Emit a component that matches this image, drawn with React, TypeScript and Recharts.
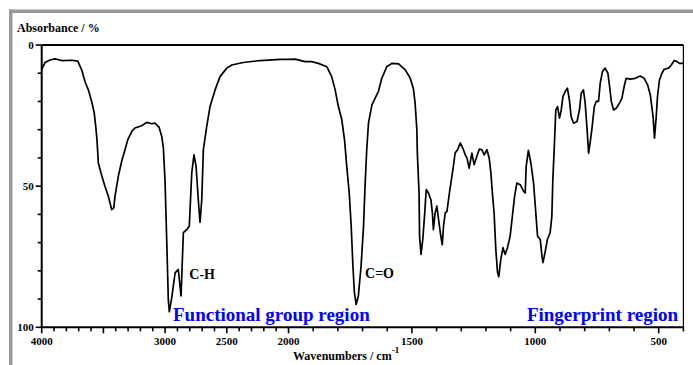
import { LineChart, Line, XAxis, YAxis, ReferenceLine, ReferenceDot } from 'recharts';

// IR spectrum (wavenumber in cm-1, absorbance axis in %)
const wavenumbers = [
  4000, 3973, 3933, 3892, 3838, 3757, 3708, 3676, 3649, 3622, 3595, 3574, 3562, 3552, 3541, 3519,
  3487, 3460, 3433, 3416, 3406, 3379, 3352, 3325, 3303, 3270, 3244, 3190, 3149, 3108, 3082, 3049,
  3027, 3014, 3001, 2987, 2974, 2966, 2946, 2919, 2893, 2871, 2852, 2825, 2804, 2784, 2766, 2749,
  2731, 2717, 2703, 2690, 2663, 2636, 2595, 2555, 2500, 2460, 2366, 2230, 2068, 2000, 1973, 1933,
  1906, 1879, 1845, 1825, 1811, 1798, 1784, 1773, 1764, 1754, 1746, 1739, 1733, 1726, 1717, 1706,
  1696, 1690, 1683, 1676, 1662, 1649, 1636, 1622, 1602, 1581, 1554, 1527, 1507, 1494, 1487, 1480,
  1478, 1471, 1469, 1463, 1456, 1449, 1442, 1433, 1423, 1417, 1413, 1406, 1399, 1392, 1383, 1377,
  1372, 1365, 1358, 1348, 1338, 1332, 1325, 1315, 1304, 1294, 1284, 1277, 1268, 1257, 1248, 1237,
  1227, 1217, 1207, 1196, 1187, 1180, 1174, 1167, 1160, 1153, 1148, 1140, 1131, 1122, 1113, 1102,
  1093, 1084, 1075, 1061, 1048, 1041, 1037, 1028, 1018, 1007, 998, 991, 980, 973, 969, 960,
  951, 940, 933, 929, 923, 917, 910, 902, 895, 888, 879, 870, 862, 855, 845, 831,
  821, 814, 805, 798, 791, 784, 778, 771, 761, 753, 744, 737, 728, 717, 706, 699,
  692, 683, 672, 659, 649, 640, 632, 615, 595, 575, 559, 545, 534, 523, 517, 510,
  505, 497, 487, 478, 460, 449, 437, 426, 416, 400,
];
const absorbance = [
  8.6, 6.2, 5.3, 4.9, 5.5, 5.4, 5.7, 8.8, 13, 15.9, 20, 24.1, 28.9, 33.6, 41.8, 45.4,
  50.1, 53.6, 58.3, 57.7, 53.6, 46.5, 41.2, 37.1, 33.6, 30.6, 29.4, 28.6, 27.4, 27.9, 27.7, 29.1,
  32.4, 36.5, 47.7, 68.9, 90.1, 94.5, 89.5, 80.7, 79.5, 88.9, 66.5, 65.4, 64.2, 45.3, 38.9, 43,
  54.8, 62.8, 54.8, 37.1, 28.9, 21.8, 15.9, 11.2, 8.2, 7.1, 6.2, 5.5, 5.1, 5.1, 5.0, 5.9,
  5.9, 6.5, 7.7, 11.2, 15.9, 21.8, 26.5, 33.6, 43, 52.4, 64.2, 78.3, 87.7, 91.9, 88.9, 78.3,
  64.2, 50.1, 37.1, 27.7, 21.2, 18.8, 16.5, 11.8, 7.7, 6.5, 6.7, 8.8, 11.7, 15.5, 20.6, 30,
  38.3, 52.4, 67.7, 74.2, 68.9, 60.7, 51.2, 52.4, 54.8, 59.5, 65.4, 59.5, 57.1, 61.8, 67.7, 70.7,
  64.2, 59.5, 58.9, 52.4, 46.5, 43, 38.3, 37.1, 34.7, 36.5, 38.9, 40, 43.6, 38.3, 42.4, 39.5,
  36.9, 37.1, 38.9, 37.1, 40, 45.3, 52.4, 59.5, 72.4, 80.7, 82.1, 76, 71.8, 74.2, 71.8, 67.7,
  60.7, 53.6, 48.9, 49.5, 51.8, 52.4, 43, 37.3, 41.8, 48.9, 59.5, 67.7, 68.9, 74.8, 77.1, 73.2,
  68.9, 66.5, 60.7, 47.7, 35.9, 23, 21.8, 25.9, 23, 18.3, 16.5, 15.3, 19.4, 25.3, 27.7, 27.1,
  23, 17.1, 15.9, 20.6, 28.9, 38.3, 34.7, 30, 21.8, 20, 20, 13.5, 9.4, 8.2, 10, 14.7,
  20, 23, 22.4, 20.6, 18.8, 14.7, 11.8, 12.1, 11.8, 11, 11.8, 14.1, 17.7, 25.3, 33, 25.3,
  18.3, 12.4, 10, 8.6, 8.2, 7.1, 5.5, 5.9, 6.5, 6.5,
];

const xTicks = [
  4000, 3900, 3800, 3700, 3600, 3500, 3400, 3300, 3200, 3100, 3000, 2900, 2800, 2700, 2600, 2500,
  2400, 2300, 2200, 2100, 2000, 1900, 1800, 1700, 1600, 1500, 1400, 1300, 1200, 1100, 1000, 900,
  800, 700, 600, 500, 400,
];
const xTickLabels = [4000, 3000, 2500, 2000, 1500, 1000, 500];
const yTicks = [0, 10, 20, 30, 40, 50, 60, 70, 80, 90, 100];
const yTickLabels = [0, 50, 100];

const FONT = '"Liberation Serif", "Times New Roman", serif';

// the spectrometer halves the scale above 2000 cm-1
const toU = (w: number) => (w >= 2000 ? (4000 - w) / 2 : 1000 + (2000 - w));
const toW = (u: number) => Math.round(u <= 1000 ? 4000 - 2 * u : 3000 - u);

const rows = wavenumbers.map((w, i) => ({ u: toU(w), a: absorbance[i] }));

function XTick({ x, y, payload }: any) {
  const w = toW(payload.value);
  const major = w % 500 === 0;
  return (
    <g>
      <line x1={x} x2={x} y1={y} y2={y + (major ? 6 : 4)} stroke="#000" strokeWidth={1.6} />
      {xTickLabels.includes(w) && (
        <text x={x} y={y + 18} textAnchor="middle" fontSize={11} fontWeight="bold" fontFamily={FONT} fill="#000">
          {w}
        </text>
      )}
    </g>
  );
}

function YTick({ x, y, payload }: any) {
  const v = payload.value;
  const major = v % 50 === 0;
  return (
    <g>
      <line x1={x - (major ? 6 : 4)} x2={x} y1={y} y2={y} stroke="#000" strokeWidth={1.6} />
      {yTickLabels.includes(v) && (
        <text x={x - 8} y={y} dy="0.35em" textAnchor="end" fontSize={11} fontWeight="bold" fontFamily={FONT} fill="#000">
          {v}
        </text>
      )}
    </g>
  );
}

function Note({ viewBox, text, size, color }: any) {
  if (!viewBox) return null;
  return (
    <text x={viewBox.x} y={viewBox.y} fontSize={size} fontWeight="bold" fontFamily={FONT} fill={color}>
      {text}
    </text>
  );
}

export default function App() {
  return (
    <div style={{ position: 'absolute', left: 0, top: 0, width: 693, height: 365, background: '#fff' }}>
      <LineChart width={693} height={365} data={rows} margin={{ top: 45, right: 9.6, bottom: 0, left: 0 }}>
        <XAxis
          type="number"
          dataKey="u"
          domain={[0, 2600]}
          ticks={xTicks.map(toU)}
          interval={0}
          height={37.7}
          tickSize={0}
          tickMargin={0}
          tickLine={false}
          axisLine={{ stroke: '#000', strokeWidth: 2 }}
          tick={<XTick />}
        />
        <YAxis
          type="number"
          domain={[0, 100]}
          reversed
          ticks={yTicks}
          interval={0}
          width={41.7}
          tickSize={0}
          tickMargin={0}
          tickLine={false}
          axisLine={{ stroke: '#000', strokeWidth: 2 }}
          tick={<YTick />}
        />
        <ReferenceLine y={0} stroke="#000" strokeWidth={2} />
        <ReferenceLine x={2600} stroke="#000" strokeWidth={1.2} />
        <Line
          type="linear"
          dataKey="a"
          stroke="#000"
          strokeWidth={1.7}
          dot={false}
          isAnimationActive={false}
          strokeLinejoin="round"
        />
        <ReferenceDot x={toU(2804)} y={82.9} r={0} stroke="none" fill="none"
          label={<Note text="C-H" size={14} color="#000" />} />
        <ReferenceDot x={toU(1690)} y={82.5} r={0} stroke="none" fill="none"
          label={<Note text="C=O" size={14} color="#000" />} />
        <ReferenceDot x={toU(2936)} y={97.9} r={0} stroke="none" fill="none"
          label={<Note text="Functional group region" size={19} color="#0000ff" />} />
        <ReferenceDot x={toU(1034)} y={97.9} r={0} stroke="none" fill="none"
          label={<Note text="Fingerprint region" size={19} color="#0000ff" />} />
      </LineChart>
      <svg width={693} height={365} style={{ position: 'absolute', left: 0, top: 0, pointerEvents: 'none' }}>
        <rect x={9} y={9.5} width={684} height={3.5} fill="#999" />
        <rect x={9} y={9.5} width={3.5} height={356} fill="#999" />
        <text x={17} y={32} fontSize={12} fontWeight="bold" fontFamily={FONT} fill="#000">
          Absorbance / %
        </text>
        <text x={293} y={360} fontSize={12} fontWeight="bold" fontFamily={FONT} fill="#000">
          Wavenumbers / cm
          <tspan fontSize={9} dy={-7}>-1</tspan>
        </text>
      </svg>
    </div>
  );
}
